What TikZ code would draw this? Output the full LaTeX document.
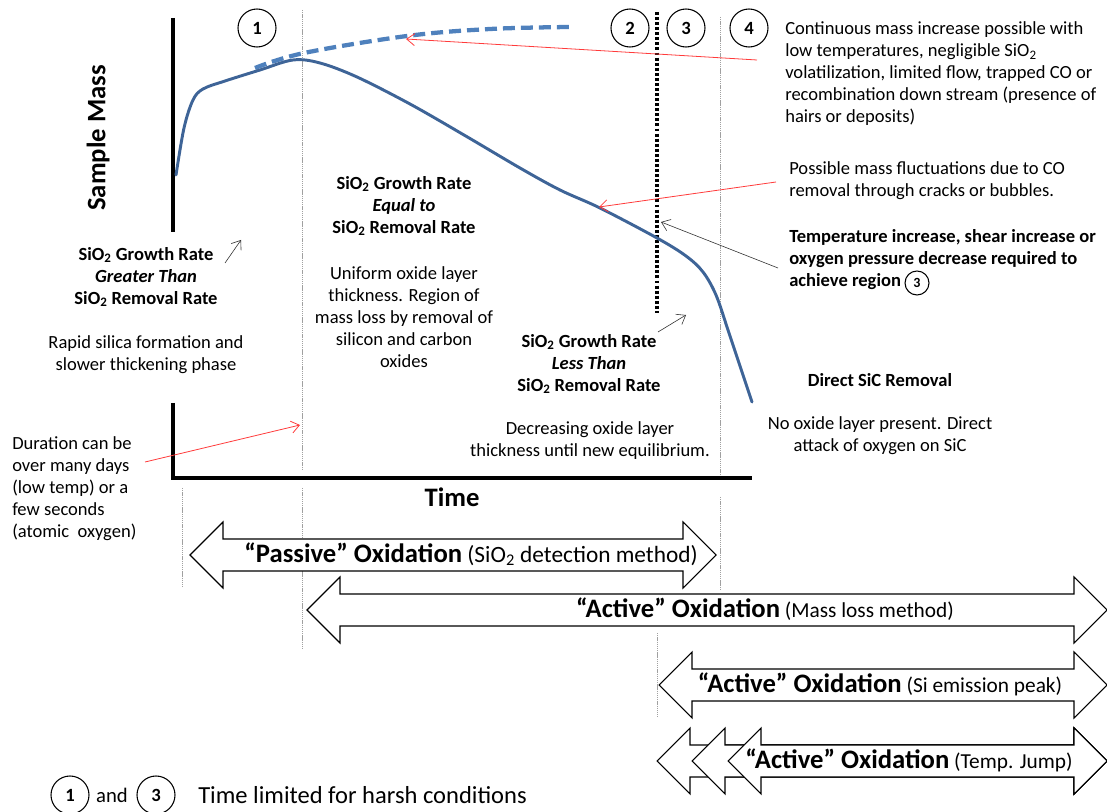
\documentclass[tikz,border=0pt]{standalone}
\usepackage{fontspec}
\setmainfont{Carlito}
\usetikzlibrary{arrows.meta,positioning,calc}
\definecolor{curveblue}{HTML}{3E6497}
\definecolor{dashblue}{HTML}{4F81BD}
\definecolor{notered}{HTML}{FF3B3B}
\definecolor{divgray}{HTML}{A0A0A0}
\newcommand{\sioo}{SiO\textsubscript{2}}
% double block arrow: left tip, right tip, centre line
\newcommand{\oxarrow}[3]{%
  \draw[oxbody] (#1,#3) -- ++(33,-33) -- ++(0,17) -- ({#2-33},{#3-16}) -- ++(0,-17)
    -- (#2,#3) -- ({#2-33},{#3+33}) -- ++(0,-17) -- ({#1+33},{#3+16}) -- ++(0,17) -- cycle;}
\newcommand{\oxbold}[1]{{\fontsize{20}{22}\selectfont\bfseries #1}}

\begin{document}
\begin{tikzpicture}[x=0.75pt,y=-0.75pt,
  body/.style={font=\fontsize{13.9}{16.5}\selectfont, align=center, inner sep=0pt},
  bodyleft/.style={body, align=left},
  boldlabel/.style={body, font=\fontsize{13.9}{16.5}\selectfont\bfseries},
  axislabel/.style={font=\fontsize{20}{24}\selectfont\bfseries, inner sep=0pt},
  numcirc/.style={draw, circle, line width=0.8pt, minimum size=28.5pt, inner sep=0pt,
    font=\fontsize{14}{16}\selectfont\bfseries},
  smallcirc/.style={numcirc, minimum size=18pt, font=\fontsize{10.5}{12}\selectfont\bfseries},
  oxtext/.style={inner sep=0pt, font=\fontsize{16}{18}\selectfont},
  oxbody/.style={draw, fill=white, line width=0.8pt, line join=miter},
  divider/.style={draw=divgray, line width=0.5pt, dash pattern=on 1pt off 0.6pt},
  redarrow/.style={draw=notered, line width=0.6pt, -{Straight Barb[length=6pt,width=9pt]}},
  blackarrow/.style={draw=black!80, line width=0.45pt, -{Straight Barb[length=6pt,width=9pt]}}
]
\useasboundingbox (0,0) rectangle (1107,812);

% region dividers
\draw[divider] (302,10) -- (302,470) (302,488) -- (302,650);
\draw[divider] (182,488) -- (182,588);
\draw[divider] (720,17) -- (720,477) (720,497) -- (720,590);
\draw[divider] (657,633) -- (657,717);
\draw[line width=3pt, dash pattern=on 2.2pt off 1.6pt] (657,12) -- (657,313);

% axes
\draw[line width=3pt] (173,18) -- (173,232);
\draw[line width=3pt] (173,403) -- (173,478) -- (752,478);
\node[axislabel, rotate=90] (ylab) at (98,138) {Sample Mass};
\node[axislabel] (xlab) at (452,497) {Time};

% mass curves
\draw[dashblue, line width=3.2pt, dash pattern=on 9pt off 4.5pt]
  plot[smooth, tension=0.6] coordinates {(255,68) (304,53) (407,36) (490,29) (570,27)};
\draw[curveblue, line width=2.2pt, line cap=round]
  plot[smooth, tension=0.55] coordinates {(176,175) (184,128) (193,100) (203,89) (225,81)
    (260,70) (293,60) (320,63) (357,77) (410,104) (464,135) (520,168) (560,190)
    (600,208) (657,238) (686,256) (703,272) (716,295) (728,330) (740,366) (752,402)};

% region numbers
\node[numcirc] (r1) at (257,28) {1};
\node[numcirc] (r2) at (630,28) {2};
\node[numcirc] (r3) at (686,28) {3};
\node[numcirc] (r4) at (749,28) {4};

% region texts
\node[boldlabel] (grow1) at (146,277) {\sioo{} Growth Rate\\\textit{Greater Than}\\\sioo{} Removal Rate};
\node[body] (desc1) at (146,355) {Rapid silica formation and\\slower thickening phase};
\node[bodyleft, anchor=west] (dur) at (12,489) {Duration can be\\over many days\\(low temp) or a\\few seconds\\(atomic\ \ oxygen)};
\node[boldlabel] (grow2) at (404,206) {\sioo{} Growth Rate\\\textit{Equal to}\\\sioo{} Removal Rate};
\node[body] (desc2) at (404,317) {Uniform oxide layer\\thickness. Region of\\mass loss by removal of\\silicon and carbon\\oxides};
\node[boldlabel] (grow3) at (589,364) {\sioo{} Growth Rate\\\textit{Less Than}\\\sioo{} Removal Rate};
\node[body] (desc3) at (590,441) {Decreasing oxide layer\\thickness until new equilibrium.};
\node[boldlabel] (grow4) at (880,380) {Direct SiC Removal};
\node[body] (desc4) at (880,436) {No oxide layer present. Direct\\attack of oxygen on SiC};

% notes on the right
\node[bodyleft, anchor=west] (cont) at (785,74) {Continuous mass increase possible with\\low temperatures, negligible \sioo\\volatilization, limited flow, trapped CO or\\recombination down stream (presence of\\hairs or deposits)};
\node[bodyleft, anchor=west] (fluct) at (789,181) {Possible mass fluctuations due to CO\\removal through cracks or bubbles.};
\node[bodyleft, anchor=west, font=\fontsize{13.9}{16.5}\selectfont\bfseries] (temp) at (789,260) {Temperature increase, shear increase or\\oxygen pressure decrease required to\\achieve region};
\node[smallcirc] (tr3) at (917,283) {3};

% pointers
\coordinate (dashpt) at (406,39);
\coordinate (contpt) at (757,60);
\coordinate (fluctpt) at (776,182);
\coordinate (curvept) at (599,207);
\coordinate (temppt) at (778,268);
\coordinate (borderpt) at (661,222);
\coordinate (durpt) at (145,462);
\coordinate (linept) at (300,425);
\coordinate (g1a) at (225,263);
\coordinate (g1b) at (241,240);
\coordinate (g3a) at (658,332);
\coordinate (g3b) at (686,315);
\draw[redarrow] (contpt) -- (dashpt);
\draw[redarrow] (fluctpt) -- (curvept);
\draw[redarrow] (durpt) -- (linept);
\draw[blackarrow] (temppt) -- (borderpt);
\draw[blackarrow] (g1a) -- (g1b);
\draw[blackarrow] (g3a) -- (g3b);

% oxidation ranges
\oxarrow{190}{716}{555}
\node[oxtext, font=\fontsize{17.5}{19}\selectfont] (passive) at (471,554) {\oxbold{“Passive” Oxidation} (\sioo{} detection method)};
\oxarrow{307}{1107}{610}
\node[oxtext] (active1) at (765,609) {\oxbold{“Active” Oxidation} (Mass loss method)};
\oxarrow{659}{1107}{685}
\node[oxtext] (active2) at (880,684) {\oxbold{“Active” Oxidation} (Si emission peak)};
\oxarrow{657}{1107}{761}
\oxarrow{692}{1107}{761}
\oxarrow{728}{1107}{761}
\node[oxtext] (active3) at (909,760) {\oxbold{“Active” Oxidation} (Temp. Jump)};

% legend
\node[numcirc] (b1) at (70,795) {1};
\node[inner sep=0pt, font=\fontsize{15.5}{18}\selectfont] (band) at (112,795) {and};
\node[numcirc] (b3) at (156,795) {3};
\node[inner sep=0pt, anchor=west, font=\fontsize{18.4}{20}\selectfont] (harsh) at (198,795) {Time limited for harsh conditions};
\end{tikzpicture}
\end{document}
